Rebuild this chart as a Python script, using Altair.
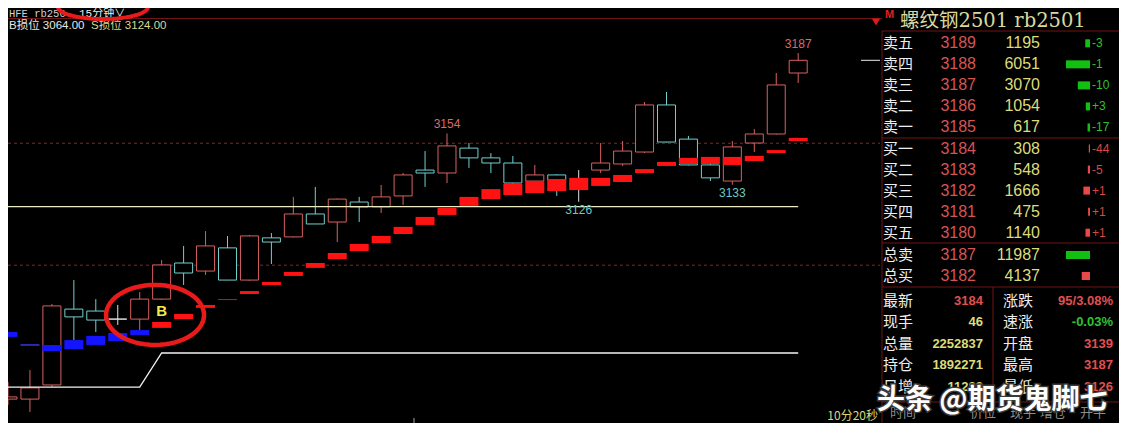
import math
import altair as alt
import pandas as pd

# ---------------- data ----------------
bar_index = list(range(37))
opens = [3045.1, 3045.1, 3050.9, 3082.0, 3081.2, 3077.9, 3077.9, 3086.1, 3100.9, 3097.6,
         3107.1, 3093.9, 3111.2, 3111.6, 3121.0, 3117.7, 3125.9, 3123.9, 3128.4, 3139.0,
         3137.8, 3148.0, 3144.0, 3141.9, 3134.5, 3137.0, 3133.3, 3139.0, 3141.5, 3146.4,
         3165.7, 3151.7, 3141.1, 3134.5, 3150.1, 3153.8, 3178.8]
closes = [3046.0, 3049.7, 3083.3, 3078.8, 3077.5, 3077.9, 3086.1, 3100.1, 3096.8, 3107.9,
          3093.9, 3112.0, 3109.5, 3121.0, 3116.9, 3127.1, 3123.9, 3128.0, 3137.0, 3137.8,
          3148.9, 3144.0, 3141.9, 3133.7, 3137.0, 3134.9, 3133.3, 3141.9, 3146.8, 3165.7,
          3150.5, 3141.1, 3135.8, 3148.5, 3153.8, 3173.9, 3184.0]
highs = [3052.1, 3057.0, 3084.1, 3093.9, 3086.1, 3083.7, 3089.0, 3102.1, 3107.9, 3114.0,
         3112.0, 3112.4, 3113.2, 3128.0, 3132.1, 3127.4, 3128.0, 3132.9, 3137.8, 3146.8,
         3154.0, 3150.1, 3146.0, 3144.8, 3141.1, 3137.3, 3139.0, 3150.1, 3150.9, 3166.9,
         3171.0, 3153.0, 3142.0, 3150.9, 3155.8, 3178.8, 3187.0]
lows = [3042.7, 3039.8, 3050.1, 3069.3, 3072.6, 3075.5, 3073.4, 3085.8, 3091.9, 3096.0,
        3093.9, 3093.6, 3100.5, 3111.4, 3116.9, 3109.5, 3117.7, 3121.4, 3124.7, 3132.1,
        3133.7, 3139.9, 3137.8, 3133.5, 3134.3, 3128.4, 3126.0, 3137.8, 3140.7, 3146.0,
        3150.3, 3140.9, 3134.5, 3133.0, 3146.4, 3153.5, 3174.7]
stop_hi = [3072.6, 3067.7, 3067.3, 3069.3, 3071.0, 3072.2, 3073.4, 3076.7, 3080.0, 3083.7,
           3086.1, 3089.4, 3093.1, 3097.2, 3100.9, 3105.0, 3108.7, 3112.0, 3115.7, 3119.8,
           3123.5, 3128.0, 3131.2, 3133.3, 3134.5, 3135.3, 3135.8, 3135.8, 3137.0, 3139.4,
           3142.3, 3144.0, 3144.4, 3144.4, 3144.8, 3147.2, 3152.2]
stop_lo = [3070.6, 3066.9, 3064.8, 3065.6, 3067.3, 3068.9, 3071.4, 3074.3, 3077.9, 3082.5,
           3085.7, 3088.2, 3091.9, 3095.6, 3098.9, 3102.5, 3105.8, 3109.1, 3112.8, 3116.5,
           3120.6, 3124.3, 3127.1, 3128.8, 3129.6, 3130.4, 3130.8, 3132.5, 3134.1, 3137.8,
           3140.7, 3141.5, 3141.5, 3141.1, 3142.7, 3146.0, 3150.9]
stop_phase = (["pre", "pre_weak"] + ["pre"] * 5 + ["post"] * 3 + ["post_weak"] + ["post"] * 26)

b_stop_line = [3050.0] * 7 + [3064.0] * 30
s_stop_line = [3124.0] * 37
grid_prices = [3100, 3150]

ext_index = [20, 36, 26, 33]
ext_price = [3154, 3187, 3126, 3133]
ext_kind = ["high", "high", "low", "low"]

signal_index = [7]
signal_price = [3081.2]
signal_text = ["B"]
circle_index = [6.7]
circle_price = [3079.6]
last_price = [3184]

ladder_labels = ["卖五", "卖四", "卖三", "卖二", "卖一", "买一", "买二", "买三", "买四", "买五"]
ladder_prices = [3189, 3188, 3187, 3186, 3185, 3184, 3183, 3182, 3181, 3180]
ladder_vols = [1195, 6051, 3070, 1054, 617, 308, 548, 1666, 475, 1140]
ladder_chg = ["-3", "-1", "-10", "+3", "-17", "-44", "-5", "+1", "+1", "+1"]
ladder_side = ["sell"] * 5 + ["buy"] * 5

total_labels = ["总卖", "总买"]
total_prices = [3187, 3182]
total_vols = [11987, 4137]
total_side = ["sell", "buy"]

stat_labels1 = ["最新", "现手", "总量", "持仓", "日增"]
stat_values1 = ["3184", "46", "2252837", "1892271", "11283"]
stat_kind1 = ["rise", "qty", "qty", "qty", "qty"]
stat_labels2 = ["涨跌", "速涨", "开盘", "最高", "最低"]
stat_values2 = ["95/3.08%", "-0.03%", "3139", "3187", "3126"]
stat_kind2 = ["rise", "fall", "rise", "rise", "rise"]

tick_header = ["时间", "价位", "现手", "增仓", "开平"]

# ---------------- scales / styles ----------------
W, H = 1111, 415
PX_PER_BAR = 21.95
XS = alt.Scale(domain=[0, W / PX_PER_BAR], nice=False, zero=False)
YS = alt.Scale(domain=[3035.30, 3205.45], nice=False, zero=False)
CANDLE_C = alt.Scale(domain=["up", "down", "flat"], range=["#d86060", "#70d0d0", "#e0e0e0"])
STOP_C = alt.Scale(domain=["pre", "pre_weak", "post", "post_weak"],
                   range=["#1414ff", "#2a2ab0", "#ff1212", "#b02424"])
SIDE_C = alt.Scale(domain=["sell", "buy"], range=["#12c012", "#e84848"])
SIDE_TXT = alt.Scale(domain=["sell", "buy"], range=["#30c030", "#d84848"])
KIND_C = alt.Scale(domain=["rise", "fall", "qty"], range=["#e05050", "#30c030", "#dcdc78"])
CJK = "Noto Sans CJK SC"
LAT = "Liberation Sans, Noto Sans CJK SC"
RED_LINE = "#701414"

df = pd.DataFrame({"i": bar_index, "open": opens, "close": closes, "high": highs, "low": lows,
                   "shi": stop_hi, "slo": stop_lo, "phase": stop_phase,
                   "bline": b_stop_line, "sline": s_stop_line})
base = alt.Chart(df).transform_calculate(
    dir="datum.close > datum.open ? 'up' : (datum.close < datum.open ? 'down' : 'flat')",
    xl="datum.i - 0.41", xr="datum.i + 0.41", sl="datum.i - 0.433", sr="datum.i + 0.433")

X = lambda f: alt.X(f, scale=XS, axis=None)
Y = lambda f: alt.Y(f, scale=YS, axis=None)

layers = []

# grid dashed lines
layers.append(alt.Chart(pd.DataFrame({"p": grid_prices})).mark_rule(
    color="#8a2424", strokeDash=[3, 3], strokeWidth=1).encode(
    y=Y("p:Q"), x=alt.value(0), x2=alt.value(872)))
hdr = alt.Chart(pd.DataFrame({"a": [0]}))
# header separator
layers.append(hdr.mark_rule(color=RED_LINE, strokeWidth=1).encode(
    y=alt.value(10.5), x=alt.value(0), x2=alt.value(874)))

# candles
layers.append(base.mark_rule(strokeWidth=1).encode(
    x=X("i:Q"), y=Y("low:Q"), y2="high:Q",
    color=alt.Color("dir:N", scale=CANDLE_C, legend=None)))
layers.append(base.mark_rect(fill="#000000", strokeWidth=1).encode(
    x=X("xl:Q"), x2="xr:Q", y=Y("open:Q"), y2="close:Q",
    stroke=alt.Stroke("dir:N", scale=CANDLE_C, legend=None)))

# stop lines
layers.append(base.mark_line(color="#ecebc4", strokeWidth=1.3).encode(x=X("i:Q"), y=Y("sline:Q")))
layers.append(base.mark_line(color="#f4f4f4", strokeWidth=1.3).encode(x=X("i:Q"), y=Y("bline:Q")))

# stop blocks
layers.append(base.mark_rect().encode(
    x=X("sl:Q"), x2="sr:Q", y=Y("shi:Q"), y2="slo:Q",
    color=alt.Color("phase:N", scale=STOP_C, legend=None)))

# extreme labels
ext = pd.DataFrame({"i": ext_index, "p": ext_price, "k": ext_kind})
layers.append(alt.Chart(ext).transform_filter("datum.k == 'high'").mark_text(
    baseline="bottom", dy=-2, font=LAT, fontSize=12, color="#d86a6a").encode(
    x=X("i:Q"), y=Y("p:Q"), text="p:Q"))
layers.append(alt.Chart(ext).transform_filter("datum.k == 'low'").mark_text(
    baseline="top", dy=3, font=LAT, fontSize=12, color="#6cc8c8").encode(
    x=X("i:Q"), y=Y("p:Q"), text="p:Q"))

# last price marker
layers.append(alt.Chart(pd.DataFrame({"p": last_price})).mark_rule(color="#e8e8e8", strokeWidth=1).encode(
    y=Y("p:Q"), x=alt.value(853), x2=alt.value(872)))


def ellipse_path(ratio, n=60):
    pts = []
    for k in range(n):
        t = 2 * math.pi * k / n
        pts.append(f"{math.cos(t):.4f},{ratio * math.sin(t):.4f}")
    return "M" + " L".join(pts) + " Z"


# signal B and its circle
sig = pd.DataFrame({"i": signal_index, "p": signal_price, "t": signal_text})
layers.append(alt.Chart(sig).mark_text(font="Liberation Sans", fontSize=15, fontWeight="bold",
                                       color="#f2ec4a", baseline="middle").encode(
    x=X("i:Q"), y=Y("p:Q"), text="t:N"))
circ = pd.DataFrame({"i": circle_index, "p": circle_price})
layers.append(alt.Chart(circ).mark_point(shape=ellipse_path(30 / 49), size=4 * 49 * 49, filled=False,
                                         color="#e81a1a", strokeWidth=4.5, opacity=1).encode(
    x=X("i:Q"), y=Y("p:Q")))

# header texts (top-left)
layers.append(hdr.mark_text(text="HFE rb250", font="Liberation Mono", fontSize=10.5, color="#d0d0d0",
                            align="left", baseline="middle").encode(x=alt.value(1), y=alt.value(5.5)))
layers.append(hdr.mark_text(text="15分钟∨", font="Liberation Mono, Noto Sans CJK SC", fontSize=11,
                            color="#eeeeee", align="left", baseline="middle").encode(
    x=alt.value(71), y=alt.value(6)))
layers.append(hdr.mark_text(text="B损位 3064.00", font=LAT, fontSize=11.5, color="#e8e8e8",
                            align="left", baseline="middle").encode(x=alt.value(1), y=alt.value(18)))
layers.append(hdr.mark_text(text="S损位 3124.00", font=LAT, fontSize=11.5, color="#d8d890",
                            align="left", baseline="middle").encode(x=alt.value(83), y=alt.value(18)))
layers.append(hdr.mark_point(shape=ellipse_path(12 / 45), size=4 * 45 * 45, filled=False,
                             color="#e81a1a", strokeWidth=4, opacity=1).encode(
    x=alt.value(95), y=alt.value(-1)))
layers.append(hdr.mark_text(text="10分20秒", font=CJK, fontSize=12, color="#d8d878",
                            align="right", baseline="bottom").encode(x=alt.value(870), y=alt.value(415)))
layers.append(hdr.mark_rule(color="#a0a0a0").encode(x=alt.value(406), y=alt.value(410), y2=alt.value(415)))

# right panel frame
layers.append(hdr.mark_point(shape="triangle-down", size=70, filled=True, color="#e01818", opacity=1).encode(
    x=alt.value(868), y=alt.value(14)))
layers.append(hdr.mark_text(text="M", font="Liberation Sans", fontSize=11, fontWeight="bold",
                            color="#e02020", align="left", baseline="middle").encode(
    x=alt.value(877), y=alt.value(6.5)))
layers.append(hdr.mark_text(text="螺纹钢2501 rb2501", font="DejaVu Serif, Noto Sans CJK SC", fontSize=19.5,
                            color="#d8d8a0", align="left", baseline="middle").encode(
    x=alt.value(892), y=alt.value(12.5)))
for yy in [23, 130, 235, 279, 394]:
    layers.append(hdr.mark_rule(color=RED_LINE, strokeWidth=1).encode(
        y=alt.value(yy), x=alt.value(874), x2=alt.value(1111)))
layers.append(hdr.mark_rule(color=RED_LINE, strokeWidth=1).encode(
    x=alt.value(874), y=alt.value(23), y2=alt.value(415)))
layers.append(hdr.mark_rule(color=RED_LINE, strokeWidth=1).encode(
    x=alt.value(985), y=alt.value(279), y2=alt.value(394)))

# order book ladder
LADDER_Y = alt.Scale(domain=[0, 9], range=[35.3, 224.7], nice=False, zero=False)
ladder = pd.DataFrame({"r": list(range(10)), "label": ladder_labels, "price": ladder_prices,
                       "vol": ladder_vols, "chg": ladder_chg, "side": ladder_side})
lc = alt.Chart(ladder)
LY = alt.Y("r:Q", scale=LADDER_Y, axis=None)
layers.append(lc.mark_text(font=CJK, fontSize=15, color="#eeeeee", align="left", baseline="middle").encode(
    x=alt.value(875), y=LY, text="label:N"))
layers.append(lc.mark_text(font=LAT, fontSize=16, color="#d85454", align="right", baseline="middle").encode(
    x=alt.value(968), y=LY, text="price:Q"))
layers.append(lc.mark_text(font=LAT, fontSize=16, color="#dcdc7a", align="right", baseline="middle").encode(
    x=alt.value(1032), y=LY, text="vol:Q"))
layers.append(lc.transform_calculate(nv="-datum.vol", y0="datum.r - 0.19", y1="datum.r + 0.19").mark_rect().encode(
    x=alt.X("nv:Q", scale=alt.Scale(domain=[-max(ladder_vols), 0], range=[1058, 1082], nice=False, zero=False),
            axis=None),
    x2=alt.datum(0), y=alt.Y("y0:Q", scale=LADDER_Y, axis=None), y2="y1:Q",
    color=alt.Color("side:N", scale=SIDE_C, legend=None)))
layers.append(lc.mark_text(font=LAT, fontSize=12, align="left", baseline="middle").encode(
    x=alt.value(1084), y=LY, text="chg:N", color=alt.Color("side:N", scale=SIDE_TXT, legend=None)))

# totals
TOT_Y = alt.Scale(domain=[0, 1], range=[247.0, 268.0], nice=False, zero=False)
tot = pd.DataFrame({"r": [0, 1], "label": total_labels, "price": total_prices, "vol": total_vols,
                    "side": total_side})
tc = alt.Chart(tot)
TY = alt.Y("r:Q", scale=TOT_Y, axis=None)
layers.append(tc.mark_text(font=CJK, fontSize=15, color="#eeeeee", align="left", baseline="middle").encode(
    x=alt.value(875), y=TY, text="label:N"))
layers.append(tc.mark_text(font=LAT, fontSize=16, color="#d85454", align="right", baseline="middle").encode(
    x=alt.value(968), y=TY, text="price:Q"))
layers.append(tc.mark_text(font=LAT, fontSize=16, color="#dcdc7a", align="right", baseline="middle").encode(
    x=alt.value(1032), y=TY, text="vol:Q"))
layers.append(tc.transform_calculate(nv="-datum.vol", y0="datum.r - 0.19", y1="datum.r + 0.19").mark_rect().encode(
    x=alt.X("nv:Q", scale=alt.Scale(domain=[-max(total_vols), 0], range=[1058, 1082], nice=False, zero=False),
            axis=None),
    x2=alt.datum(0), y=alt.Y("y0:Q", scale=TOT_Y, axis=None), y2="y1:Q",
    color=alt.Color("side:N", scale=SIDE_C, legend=None)))

# stats block
STAT_Y = alt.Scale(domain=[0, 4], range=[292.7, 378.7], nice=False, zero=False)
st = pd.DataFrame({"r": list(range(5)), "l1": stat_labels1, "v1": stat_values1, "k1": stat_kind1,
                   "l2": stat_labels2, "v2": stat_values2, "k2": stat_kind2})
sc = alt.Chart(st)
SY = alt.Y("r:Q", scale=STAT_Y, axis=None)
layers.append(sc.mark_text(font=CJK, fontSize=15, color="#eeeeee", align="left", baseline="middle").encode(
    x=alt.value(875), y=SY, text="l1:N"))
layers.append(sc.mark_text(font=LAT, fontSize=13, fontWeight="bold", align="right", baseline="middle").encode(
    x=alt.value(975), y=SY, text="v1:N", color=alt.Color("k1:N", scale=KIND_C, legend=None)))
layers.append(sc.mark_text(font=CJK, fontSize=15, color="#eeeeee", align="left", baseline="middle").encode(
    x=alt.value(995), y=SY, text="l2:N"))
layers.append(sc.mark_text(font=LAT, fontSize=13, fontWeight="bold", align="right", baseline="middle").encode(
    x=alt.value(1105), y=SY, text="v2:N", color=alt.Color("k2:N", scale=KIND_C, legend=None)))

# tick list header (partly under the watermark)
for name, xpos in zip(tick_header, [882, 962, 1002, 1032, 1072]):
    layers.append(alt.Chart(pd.DataFrame({"c": [name]})).mark_text(
        font=CJK, fontSize=13, color="#8c8c8c", align="left", baseline="middle").encode(
        x=alt.value(xpos), y=alt.value(405), text="c:N"))

# watermark
layers.append(hdr.mark_text(text="头条 @期货鬼脚七", font=CJK, fontSize=28, fontWeight="bold",
                            color="#ffffff", stroke="#3a3a3a", strokeWidth=3, align="left",
                            baseline="middle").encode(x=alt.value(869), y=alt.value(393)))
layers.append(hdr.mark_text(text="头条 @期货鬼脚七", font=CJK, fontSize=28, fontWeight="bold",
                            color="#ffffff", align="left", baseline="middle").encode(
    x=alt.value(869), y=alt.value(393)))

chart = alt.layer(*layers).resolve_scale(
    x="independent", y="independent", color="independent", stroke="independent"
).properties(
    width=W, height=H, padding=0, background="#000000",
    autosize=alt.AutoSizeParams(type="none"),
).configure_view(stroke=None)

chart.save("out.html", embed_options={"renderer": "svg", "actions": False})
